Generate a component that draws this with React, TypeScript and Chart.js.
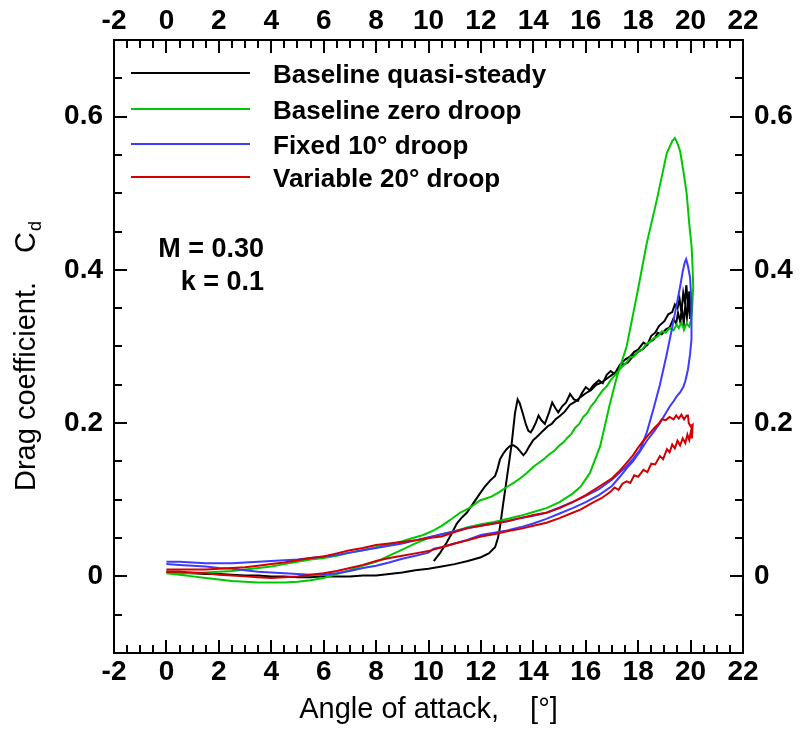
import React, { useEffect, useRef } from "react";
import { Chart, registerables } from "chart.js";

Chart.register(...registerables);

// ---------------- data ----------------
const SERIES_LABELS = [
  "Baseline quasi-steady",
  "Baseline zero droop",
  "Fixed 10\u00b0 droop",
  "Variable 20\u00b0 droop",
];
const SERIES_COLORS = ["#000000", "#00c800", "#3c3cff", "#d20000"];

const X_TICKS = [-2, 0, 2, 4, 6, 8, 10, 12, 14, 16, 18, 20, 22];
const Y_TICKS = [0, 0.2, 0.4, 0.6];
const X_RANGE = [-2, 22];
const Y_RANGE = [-0.1, 0.7];
const X_MINOR = 0.5;
const Y_MINOR = 0.05;
const ANNOTATION = ["M = 0.30", "k = 0.1"];
const X_TITLE = ["Angle of attack,", "[\u00b0]"];
const Y_TITLE = ["Drag coefficient.", "C", "d"];

// [angle, Cd]
const BASELINE_QS: [number, number][] = [
  [0, 0.006], [0.5, 0.005], [1, 0.004], [1.5, 0.003], [2, 0.003], [2.5, 0.002], [3, 0.001], [3.5, 0.001],
  [4, 0.0], [4.5, 0.0], [5, -0.001], [5.5, -0.001], [6, 0.0], [6.5, 0.0], [7, 0.0], [7.5, 0.001],
  [8, 0.001], [8.5, 0.003], [9, 0.005], [9.5, 0.008], [10, 0.01], [10.5, 0.013], [11, 0.016], [11.5, 0.02],
  [12, 0.025], [12.3, 0.03], [12.54, 0.038], [12.65, 0.05], [12.73, 0.065], [12.85, 0.095], [12.98, 0.126],
  [13.08, 0.15], [13.17, 0.172], [13.3, 0.213], [13.4, 0.231], [13.48, 0.226], [13.55, 0.218], [13.62, 0.21],
  [13.72, 0.198], [13.81, 0.19], [13.9, 0.188], [13.99, 0.193], [14.1, 0.201], [14.2, 0.21], [14.3, 0.204],
  [14.44, 0.199], [14.6, 0.214], [14.72, 0.227], [14.85, 0.219], [14.95, 0.214], [15.1, 0.222], [15.25, 0.227],
  [15.4, 0.238], [15.55, 0.231], [15.7, 0.229], [15.85, 0.239], [16.0, 0.247], [16.15, 0.243], [16.3, 0.25],
  [16.5, 0.256], [16.65, 0.252], [16.8, 0.263], [16.95, 0.268], [17.1, 0.264], [17.3, 0.276], [17.5, 0.283],
  [17.7, 0.287], [17.85, 0.293], [18.0, 0.296], [18.2, 0.305], [18.35, 0.302], [18.5, 0.314], [18.65, 0.318],
  [18.8, 0.327], [19.0, 0.333], [19.15, 0.342], [19.3, 0.345], [19.4, 0.355], [19.5, 0.35], [19.58, 0.362],
  [19.65, 0.344], [19.72, 0.37], [19.78, 0.358], [19.84, 0.38], [19.9, 0.352], [19.95, 0.372], [20.0, 0.356],
  [20.03, 0.36], [19.98, 0.336], [19.93, 0.362], [19.86, 0.338], [19.8, 0.355], [19.74, 0.33], [19.67, 0.35],
  [19.6, 0.333], [19.52, 0.344], [19.45, 0.33], [19.34, 0.336], [19.2, 0.325], [19.05, 0.322], [18.9, 0.316],
  [18.75, 0.318], [18.6, 0.309], [18.4, 0.305], [18.2, 0.297], [18.0, 0.293], [17.8, 0.287], [17.6, 0.279],
  [17.4, 0.276], [17.2, 0.268], [17.0, 0.263], [16.8, 0.258], [16.6, 0.253], [16.4, 0.25], [16.2, 0.243],
  [16.0, 0.239], [15.8, 0.234], [15.6, 0.228], [15.4, 0.224], [15.2, 0.215], [15.0, 0.209], [14.85, 0.205],
  [14.7, 0.199], [14.55, 0.196], [14.4, 0.191], [14.25, 0.186], [14.1, 0.181], [14.0, 0.178], [13.85, 0.17],
  [13.72, 0.162], [13.62, 0.158], [13.5, 0.163], [13.38, 0.168], [13.25, 0.171], [13.1, 0.17], [12.98, 0.166],
  [12.85, 0.16], [12.73, 0.153], [12.63, 0.14], [12.54, 0.131], [12.35, 0.125], [12.15, 0.117], [11.96, 0.108],
  [11.7, 0.095], [11.46, 0.083], [11.25, 0.076], [11.08, 0.069], [10.9, 0.057], [10.69, 0.044], [10.45, 0.031],
  [10.2, 0.02],
];

const BASELINE_ZERO: [number, number][] = [
  [0, 0.004], [0.5, 0.002], [1, 0.0], [1.5, -0.002], [2, -0.004], [2.5, -0.006], [3, -0.007], [3.5, -0.008],
  [4, -0.008], [4.5, -0.008], [5, -0.007], [5.5, -0.005], [6, -0.002], [6.5, 0.003], [7, 0.008], [7.5, 0.014],
  [8, 0.019], [8.5, 0.027], [9, 0.035], [9.5, 0.043], [10, 0.05], [10.5, 0.055], [11, 0.059], [11.5, 0.064],
  [12, 0.068], [12.5, 0.071], [13, 0.075], [13.5, 0.079], [14, 0.084], [14.5, 0.089], [15, 0.097], [15.5, 0.108],
  [15.8, 0.117], [16.16, 0.135], [16.55, 0.17], [16.9, 0.222], [17.2, 0.262], [17.56, 0.3], [17.94, 0.365],
  [18.33, 0.435], [18.71, 0.491], [19.09, 0.552], [19.3, 0.568], [19.4, 0.572], [19.5, 0.565], [19.6, 0.555],
  [19.72, 0.53], [19.85, 0.5], [19.95, 0.46], [20.04, 0.43], [20.08, 0.4], [20.1, 0.378], [20.06, 0.35],
  [20.02, 0.335], [19.95, 0.326], [19.85, 0.33], [19.75, 0.322], [19.65, 0.331], [19.55, 0.324], [19.47, 0.329],
  [19.35, 0.321], [19.2, 0.324], [19.05, 0.318], [18.9, 0.32], [18.75, 0.313], [18.6, 0.311], [18.45, 0.306],
  [18.3, 0.303], [18.15, 0.296], [18.0, 0.294], [17.85, 0.287], [17.7, 0.286], [17.55, 0.279], [17.4, 0.274],
  [17.25, 0.268], [17.1, 0.262], [16.95, 0.256], [16.8, 0.248], [16.65, 0.243], [16.5, 0.236], [16.35, 0.228],
  [16.2, 0.222], [16.05, 0.213], [15.9, 0.208], [15.75, 0.199], [15.6, 0.194], [15.45, 0.186], [15.3, 0.181],
  [15.15, 0.175], [15.0, 0.171], [14.8, 0.164], [14.6, 0.159], [14.4, 0.153], [14.2, 0.148], [14.0, 0.143],
  [13.75, 0.135], [13.5, 0.128], [13.25, 0.122], [13.0, 0.117], [12.7, 0.11], [12.4, 0.104], [11.96, 0.099],
  [11.6, 0.09], [11.2, 0.083], [10.8, 0.073], [10.5, 0.066], [10.2, 0.06], [9.8, 0.054], [9.4, 0.05],
  [9.0, 0.046], [8.5, 0.042], [8, 0.038], [7.5, 0.034], [7, 0.031], [6.5, 0.027], [6, 0.024], [5.5, 0.022],
  [5, 0.019], [4.5, 0.016], [4, 0.013], [3.5, 0.011], [3, 0.009], [2.5, 0.007], [2, 0.006], [1.5, 0.005],
  [1, 0.004], [0.5, 0.004], [0, 0.004],
];

const FIXED_10: [number, number][] = [
  [0, 0.019], [0.5, 0.019], [1, 0.018], [1.5, 0.017], [2, 0.017], [2.5, 0.017], [3, 0.018], [3.5, 0.019],
  [4, 0.02], [4.5, 0.021], [5, 0.022], [5.5, 0.024], [6, 0.026], [6.5, 0.028], [7, 0.031], [7.5, 0.034],
  [8, 0.037], [8.5, 0.04], [9, 0.043], [9.5, 0.047], [10, 0.051], [10.5, 0.055], [11, 0.059], [11.5, 0.063],
  [12, 0.066], [12.5, 0.069], [13, 0.072], [13.5, 0.076], [14, 0.079], [14.5, 0.083], [15, 0.09], [15.5, 0.097],
  [16, 0.105], [16.5, 0.114], [17, 0.126], [17.5, 0.142], [17.8, 0.153], [18.07, 0.165], [18.33, 0.188],
  [18.58, 0.218], [18.83, 0.25], [19.09, 0.29], [19.3, 0.325], [19.47, 0.355], [19.6, 0.378], [19.7, 0.398],
  [19.78, 0.41], [19.83, 0.414], [19.9, 0.405], [19.98, 0.39], [20.03, 0.36], [20.05, 0.335], [20.02, 0.31],
  [19.98, 0.29], [19.9, 0.27], [19.8, 0.255], [19.72, 0.247], [19.6, 0.24], [19.47, 0.235], [19.34, 0.228],
  [19.21, 0.222], [19.0, 0.21], [18.83, 0.2], [18.58, 0.188], [18.33, 0.177], [18.07, 0.163], [17.8, 0.15],
  [17.56, 0.141], [17.3, 0.13], [17.0, 0.118], [16.5, 0.106], [16.0, 0.097], [15.5, 0.089], [15.0, 0.082],
  [14.5, 0.075], [14.0, 0.069], [13.5, 0.064], [13.0, 0.06], [12.5, 0.057], [12.0, 0.054], [11.5, 0.048],
  [11.0, 0.043], [10.5, 0.038], [10.2, 0.036], [10.0, 0.031], [9.5, 0.027], [9.0, 0.023], [8.5, 0.018],
  [8.0, 0.014], [7.5, 0.011], [7.0, 0.007], [6.5, 0.004], [6.0, 0.002], [5.5, 0.002], [5.0, 0.003],
  [4.5, 0.004], [4.0, 0.005], [3.5, 0.006], [3.0, 0.008], [2.5, 0.01], [2.0, 0.011], [1.5, 0.013],
  [1.0, 0.014], [0.5, 0.015], [0, 0.016],
];

const VARIABLE_20: [number, number][] = [
  [0, 0.006], [0.5, 0.006], [1, 0.005], [1.5, 0.004], [2, 0.002], [2.5, 0.001], [3, 0.0], [3.5, -0.001],
  [4, -0.002], [4.5, -0.001], [5, 0.0], [5.5, 0.002], [6, 0.004], [6.5, 0.007], [7, 0.011], [7.5, 0.015],
  [8, 0.02], [8.5, 0.024], [9, 0.027], [9.5, 0.03], [10, 0.033], [10.5, 0.038], [11, 0.043], [11.5, 0.047],
  [12, 0.052], [12.5, 0.055], [13, 0.059], [13.5, 0.062], [14, 0.066], [14.5, 0.07], [15, 0.076], [15.5, 0.083],
  [15.8, 0.087], [16.3, 0.097], [16.6, 0.102], [16.93, 0.11], [17.1, 0.116], [17.25, 0.113], [17.4, 0.121],
  [17.56, 0.124], [17.7, 0.122], [17.85, 0.132], [18.0, 0.13], [18.2, 0.139], [18.35, 0.136], [18.5, 0.147],
  [18.65, 0.146], [18.83, 0.157], [18.95, 0.153], [19.1, 0.166], [19.2, 0.162], [19.3, 0.172], [19.4, 0.167],
  [19.5, 0.177], [19.6, 0.171], [19.7, 0.18], [19.8, 0.174], [19.88, 0.185], [19.95, 0.178], [20.02, 0.19],
  [20.05, 0.18], [20.08, 0.198], [20.0, 0.196], [19.93, 0.2], [19.9, 0.21], [19.85, 0.21], [19.75, 0.205],
  [19.65, 0.211], [19.55, 0.206], [19.45, 0.21], [19.35, 0.205], [19.2, 0.208], [19.05, 0.204], [18.9, 0.205],
  [18.8, 0.2], [18.6, 0.193], [18.4, 0.185], [18.2, 0.177], [18.0, 0.168], [17.8, 0.158], [17.56, 0.148],
  [17.3, 0.138], [17.0, 0.128], [16.5, 0.117], [16.0, 0.106], [15.5, 0.097], [15.0, 0.089], [14.5, 0.083],
  [14.0, 0.08], [13.5, 0.076], [13.0, 0.072], [12.5, 0.069], [12.0, 0.066], [11.5, 0.063], [11.0, 0.058],
  [10.5, 0.052], [10.0, 0.05], [9.5, 0.047], [9.0, 0.045], [8.5, 0.043], [8.0, 0.041], [7.5, 0.037],
  [7.0, 0.034], [6.5, 0.03], [6.0, 0.026], [5.5, 0.024], [5.0, 0.021], [4.5, 0.018], [4.0, 0.016],
  [3.5, 0.014], [3.0, 0.012], [2.5, 0.011], [2.0, 0.01], [1.5, 0.009], [1.0, 0.009], [0.5, 0.009], [0, 0.009],
];

const SERIES = [BASELINE_QS, BASELINE_ZERO, FIXED_10, VARIABLE_20];
const SERIES_ORDER = [3, 2, 1, 0];

// ---------------- layout/style ----------------
const W = 801;
const H = 736;
const FAMILY = '"Liberation Sans", Arial, Helvetica, sans-serif';

const decorPlugin = {
  id: "decor",
  afterDraw(chart: any) {
    const ctx: CanvasRenderingContext2D = chart.ctx;
    const { left, right, top, bottom } = chart.chartArea;
    const xs = chart.scales.x;
    const ys = chart.scales.y;
    ctx.save();
    ctx.strokeStyle = "#000";
    ctx.lineWidth = 2;
    ctx.lineCap = "butt";
    // frame
    ctx.strokeRect(left, top, right - left, bottom - top);
    // inward ticks
    ctx.beginPath();
    const nx = Math.round((X_RANGE[1] - X_RANGE[0]) / X_MINOR);
    for (let i = 0; i <= nx; i++) {
      const v = X_RANGE[0] + i * X_MINOR;
      const px = Math.round(xs.getPixelForValue(v));
      const major = i % 4 === 0;
      const len = major ? 13 : 8;
      ctx.moveTo(px, bottom);
      ctx.lineTo(px, bottom - len);
      ctx.moveTo(px, top);
      ctx.lineTo(px, top + len);
    }
    const ny = Math.round((Y_RANGE[1] - Y_RANGE[0]) / Y_MINOR);
    for (let i = 0; i <= ny; i++) {
      const v = Y_RANGE[0] + i * Y_MINOR;
      const py = Math.round(ys.getPixelForValue(v));
      const major = (i - 2) % 4 === 0;
      const len = major ? 13 : 8;
      ctx.moveTo(left, py);
      ctx.lineTo(left + len, py);
      ctx.moveTo(right, py);
      ctx.lineTo(right - len, py);
    }
    ctx.stroke();

    // legend
    const legY = [73, 109, 144, 177];
    ctx.font = `bold 26px ${FAMILY}`;
    ctx.textAlign = "left";
    ctx.textBaseline = "alphabetic";
    SERIES_LABELS.forEach((lab, i) => {
      ctx.strokeStyle = SERIES_COLORS[i];
      ctx.lineWidth = 2;
      ctx.beginPath();
      ctx.moveTo(131, legY[i]);
      ctx.lineTo(250, legY[i]);
      ctx.stroke();
      ctx.fillStyle = "#000";
      ctx.fillText(lab, 273, legY[i] + 10);
    });

    // annotation
    ctx.font = `bold 27px ${FAMILY}`;
    ctx.textAlign = "right";
    ctx.fillStyle = "#000";
    ctx.fillText(ANNOTATION[0], 264, 257);
    ctx.fillText(ANNOTATION[1], 264, 290);

    // x title
    ctx.font = `29px ${FAMILY}`;
    ctx.textAlign = "left";
    const w1 = ctx.measureText(X_TITLE[0]).width;
    const w2 = ctx.measureText(X_TITLE[1]).width;
    const gap = 31;
    const tot = w1 + gap + w2;
    const cx = (left + right) / 2;
    ctx.fillText(X_TITLE[0], cx - tot / 2, 718);
    ctx.fillText(X_TITLE[1], cx - tot / 2 + w1 + gap, 718);

    // y title (rotated)
    ctx.save();
    ctx.translate(35, (top + bottom) / 2 + 10);
    ctx.rotate(-Math.PI / 2);
    ctx.font = `29px ${FAMILY}`;
    const m1 = ctx.measureText(Y_TITLE[0]).width;
    const m2 = ctx.measureText(Y_TITLE[1]).width;
    ctx.font = `18px ${FAMILY}`;
    const m3 = ctx.measureText(Y_TITLE[2]).width;
    const ygap = 29;
    const ytot = m1 + ygap + m2 + m3;
    let x0 = -ytot / 2;
    ctx.font = `29px ${FAMILY}`;
    ctx.fillText(Y_TITLE[0], x0, 0);
    x0 += m1 + ygap;
    ctx.fillText(Y_TITLE[1], x0, 0);
    x0 += m2 + 1;
    ctx.font = `18px ${FAMILY}`;
    ctx.fillText(Y_TITLE[2], x0, 6);
    ctx.restore();

    ctx.restore();
  },
};

function axisCommon(ticks: number[], range: number[], padding: number, fit: (s: any) => void, position: string) {
  return {
    type: "linear",
    position,
    min: range[0],
    max: range[1],
    afterBuildTicks: (s: any) => {
      s.ticks = ticks.map((v) => ({ value: v }));
    },
    afterFit: fit,
    grid: { display: false, drawTicks: false },
    border: { display: false },
    ticks: {
      color: "#000",
      padding,
      autoSkip: false,
      maxRotation: 0,
      minRotation: 0,
      font: { family: FAMILY, size: 28, weight: "bold", lineHeight: 1 },
      callback: (v: any) => String(v),
    },
  };
}

export default function App() {
  const ref = useRef<HTMLCanvasElement | null>(null);
  useEffect(() => {
    if (!ref.current) return;
    const chart = new Chart(ref.current, {
      type: "scatter",
      data: {
        datasets: SERIES.map((pts, i) => ({
          label: SERIES_LABELS[i],
          data: pts.map(([x, y]) => ({ x, y })),
          showLine: true,
          borderColor: SERIES_COLORS[i],
          backgroundColor: SERIES_COLORS[i],
          borderWidth: 2,
          pointRadius: 0,
          tension: 0,
          fill: false,
          order: SERIES_ORDER[i],
        })),
      },
      options: {
        animation: false,
        responsive: false,
        maintainAspectRatio: false,
        events: [],
        layout: { padding: 0 },
        plugins: {
          legend: { display: false },
          tooltip: { enabled: false },
          title: { display: false },
        },
        scales: {
          x: axisCommon(X_TICKS, X_RANGE, 5.5, (s) => { s.height = 83; }, "bottom"),
          x2: axisCommon(X_TICKS, X_RANGE, 4.5, (s) => { s.height = 40; }, "top"),
          y: axisCommon(Y_TICKS, Y_RANGE, 11, (s) => { s.width = 114; }, "left"),
          y2: axisCommon(Y_TICKS, Y_RANGE, 11, (s) => { s.width = 58; }, "right"),
        } as any,
      },
      plugins: [decorPlugin],
    } as any);
    return () => chart.destroy();
  }, []);
  return (
    <div style={{ position: "absolute", left: 0, top: 0, width: W, height: H, background: "#fff" }}>
      <canvas ref={ref} width={W} height={H} style={{ display: "block" }} />
    </div>
  );
}
